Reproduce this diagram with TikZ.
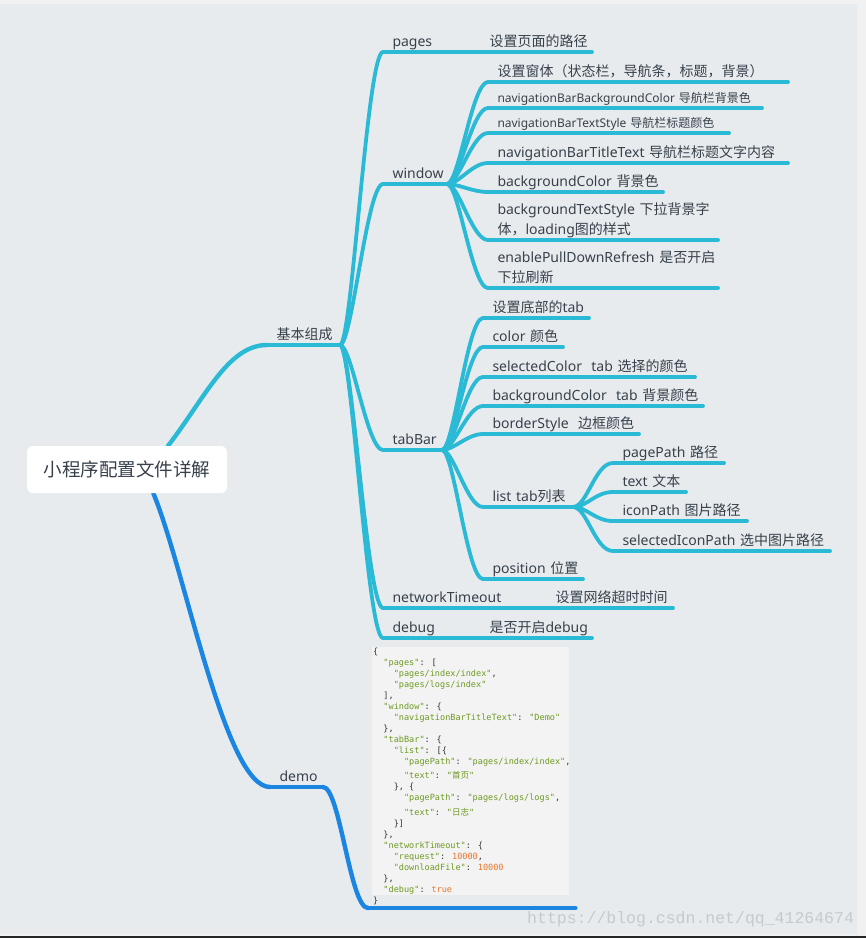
\documentclass[tikz,border=0pt]{standalone}
\usepackage{fontspec}
\setmainfont{Noto Sans}
\newfontfamily\zhfont{Noto Sans CJK SC}
\newfontfamily\codefont{DejaVu Sans Mono}
\newfontfamily\markfont{Liberation Mono}
\usetikzlibrary{backgrounds}

\definecolor{pagebg}{HTML}{E8EBEE}
\definecolor{stripbg}{HTML}{F1F1F2}
\definecolor{branchcyan}{HTML}{2ABAD5}
\definecolor{branchblue}{HTML}{1B86E2}
\definecolor{topictext}{HTML}{37414B}
\definecolor{codebg}{HTML}{F3F3F3}
\definecolor{codegreen}{HTML}{6E9A22}
\definecolor{codeorange}{HTML}{E8772E}
\definecolor{codepunct}{HTML}{333333}
\definecolor{markgray}{HTML}{C6C9CD}

\newcommand\zh[1]{{\zhfont #1}}
\newcommand\jstr[1]{\textcolor{codegreen}{#1}}
\newcommand\jnum[1]{\textcolor{codeorange}{#1}}

\tikzset{
  branch/.style={draw=branchcyan,line width=3.8pt,line cap=round},
  topic/.style={anchor=south west,inner xsep=9.5pt,inner ysep=4pt,outer sep=0pt,
    text depth=1.5pt,align=left,text width=#1pt,text=topictext,
    font=\fontsize{14}{20}\selectfont},
  small/.style={font=\fontsize{12}{16}\selectfont},
  twoline/.style={text depth=21.5pt},
  root/.style={fill=white,rounded corners=6pt,minimum width=200pt,minimum height=47pt,
    text=topictext,font=\zhfont\fontsize{18.5}{22}\selectfont},
}

\begin{document}
\begin{tikzpicture}[x=1pt,y=-1pt]

\useasboundingbox (0,0) rectangle (866,938);

% central topic
\node[root] (root) at (127,469.5) {小程序配置文件详解};

% main topics
\node[topic=54] (basic) at (267,345) {\zh{基本组成}};
\node[topic=34] (demo) at (270,787) {demo};

\node[topic=78] (pages) at (383,52) {pages};
\node[topic=93] (pagesd) at (480,52) {\zh{设置页面的路径}};

\node[topic=45] (window) at (383,184) {window};
\node[topic=281] (w1) at (488,82) {\zh{设置窗体（状态栏，导航条，标题，背景）}};
\node[topic=255,small] (w2) at (488,108) {navigationBarBackgroundColor~\zh{导航栏背景色}};
\node[topic=222,small] (w3) at (488,133) {navigationBarTextStyle~\zh{导航栏标题颜色}};
\node[topic=281] (w4) at (488,163) {navigationBarTitleText~\zh{导航栏标题文字内容}};
\node[topic=156] (w5) at (488,192) {backgroundColor~\zh{背景色}};
\node[topic=211,twoline] (w6) at (488,240) {backgroundTextStyle~\zh{下拉背景字}\\\zh{体，}loading\zh{图的样式}};
\node[topic=211,twoline] (w7) at (488,288) {enablePullDownRefresh~\zh{是否开启}\\\zh{下拉刷新}};

\node[topic=40] (tabbar) at (383,450) {tabBar};
\node[topic=87] (t1) at (483,318) {\zh{设置底部的}tab};
\node[topic=61] (t2) at (483,347) {color~\zh{颜色}};
\node[topic=193] (t3) at (483,377) {selectedColor~~tab~\zh{选择的颜色}};
\node[topic=201] (t4) at (483,406) {backgroundColor~~tab~\zh{背景颜色}};
\node[topic=137] (t5) at (483,434) {borderStyle~~\zh{边框颜色}};
\node[topic=71] (t6) at (483,507) {list~tab\zh{列表}};
\node[topic=92] (l1) at (613,463) {pagePath~\zh{路径}};
\node[topic=54] (l2) at (613,492) {text~\zh{文本}};
\node[topic=115] (l3) at (613,521) {iconPath~\zh{图片路径}};
\node[topic=198] (l4) at (613,551) {selectedIconPath~\zh{选中图片路径}};
\node[topic=81] (t7) at (483,579) {position~\zh{位置}};

\node[topic=144] (nettime) at (383,608) {networkTimeout};
\node[topic=108] (nettimed) at (546,608) {\zh{设置网络超时时间}};
\node[topic=78] (debug) at (383,638) {debug};
\node[topic=93] (debugd) at (480,638) {\zh{是否开启}debug};

% code picture under demo
\node[anchor=south west,inner sep=0pt,minimum width=207pt,minimum height=262pt] (codeimg) at (368,908) {};
\node[anchor=north west,fill=codebg,inner sep=0pt,minimum width=197pt,minimum height=248pt] (codebox) at (372,647) {};
\node[anchor=north west,inner sep=0pt,align=left,text=codepunct,
  font=\codefont\fontsize{8.55}{11}\selectfont] (code) at (373,647.8) {%
\{\\
~~\jstr{"pages"}: [\\
~~~~\jstr{"pages/index/index"},\\
~~~~\jstr{"pages/logs/index"}\\
~~],\\
~~\jstr{"window"}: \{\\
~~~~\jstr{"navigationBarTitleText"}: \jstr{"Demo"}\\
~~\},\\
~~\jstr{"tabBar"}: \{\\
~~~~\jstr{"list"}: [\{\\
~~~~~~\jstr{"pagePath"}: \jstr{"pages/index/index"},\\[3.3pt]
~~~~~~\jstr{"text"}: \jstr{"\zh{首页}"}\\
~~~~\}, \{\\
~~~~~~\jstr{"pagePath"}: \jstr{"pages/logs/logs"},\\[3.3pt]
~~~~~~\jstr{"text"}: \jstr{"\zh{日志}"}\\
~~~~\}]\\
~~\},\\
~~\jstr{"networkTimeout"}: \{\\
~~~~\jstr{"request"}: \jnum{10000},\\
~~~~\jstr{"downloadFile"}: \jnum{10000}\\
~~\},\\
~~\jstr{"debug"}: \jnum{true}\\
\}};

\begin{pgfonlayer}{background}
\fill[pagebg] (0,0) rectangle (866,938);
\fill[stripbg] (0,0) rectangle (866,4);
\fill[stripbg] (857,0) rectangle (866,936);
\fill[stripbg] (0,934) rectangle (866,936);
\fill[black!85] (0,936) rectangle (866,938);
% branches out of the central topic
\draw[branch,line width=4.4pt] (root.30) .. controls +(37,-48) and +(-39,0) .. (basic.south west);
\draw[branch,draw=branchblue,line width=4.4pt] (root.-42) .. controls +(32,77) and +(-45,0) .. (demo.south west);
\end{pgfonlayer}

\draw[branch,line width=4.4pt] (basic.south west) -- (basic.south east);
\draw[branch,draw=branchblue,line width=4.4pt] (demo.south west) -- (demo.south east);
\draw[branch,draw=branchblue,line width=4.4pt] (demo.south east) .. controls +(17,0) and +(-18,0) .. (codeimg.south west);
\draw[branch,draw=branchblue,line width=4.4pt] (codeimg.south west) -- (codeimg.south east);

% underlines
\foreach \n in {pages,pagesd,window,w1,w2,w3,w4,w5,w6,w7,tabbar,t1,t2,t3,t4,t5,t6,l1,l2,l3,l4,t7,nettime,nettimed,debug,debugd}
  \draw[branch] (\n.south west) -- (\n.south east);

% connectors
\foreach \c in {pages,window,tabbar,nettime,debug}
  \draw[branch] (basic.south east) .. controls +(12,0) and +(-16,0) .. (\c.south west);
\foreach \c in {w1,w2,w3,w4,w5,w6,w7}
  \draw[branch] (window.south east) .. controls +(12,0) and +(-16,0) .. (\c.south west);
\foreach \c in {t1,t2,t3,t4,t5,t6,t7}
  \draw[branch] (tabbar.south east) .. controls +(12,0) and +(-16,0) .. (\c.south west);
\foreach \c in {l1,l2,l3,l4}
  \draw[branch] (t6.south east) .. controls +(14,0) and +(-18,0) .. (\c.south west);
\draw[branch] (pages.south east) -- (pagesd.south west);
\draw[branch] (nettime.south east) -- (nettimed.south west);
\draw[branch] (debug.south east) -- (debugd.south west);

% watermark
\node[anchor=base west,inner sep=0pt,text=markgray,font=\markfont\fontsize{16.5}{18}\selectfont] (mark) at (527,923) {https://blog.csdn.net/qq\_41264674};

\end{tikzpicture}
\end{document}
